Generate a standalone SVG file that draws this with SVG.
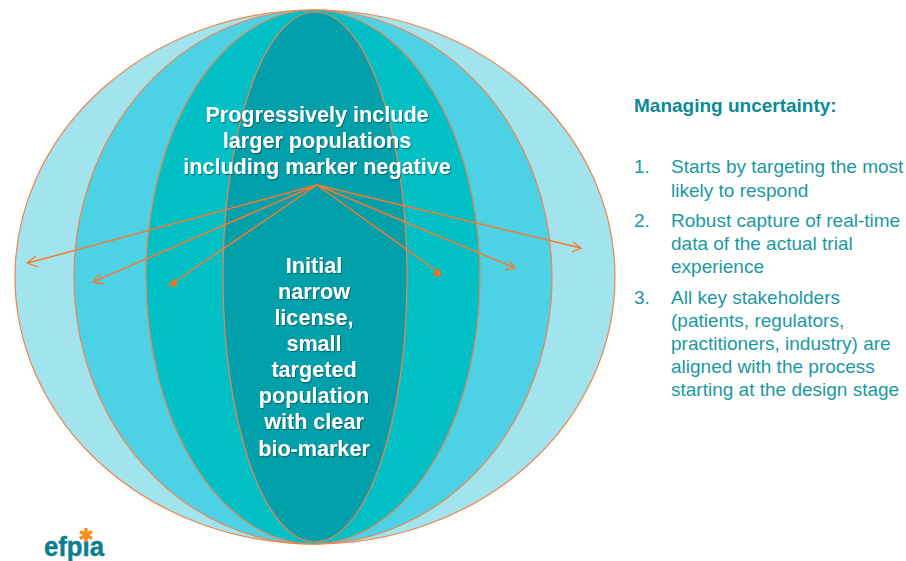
<svg xmlns="http://www.w3.org/2000/svg" width="906" height="561" viewBox="0 0 906 561">
<defs>
<style>
text{font-family:"Liberation Sans",Arial,sans-serif}
.e{stroke:#ef8450;stroke-width:1.2}
.c{fill:#fff;font-weight:700;font-size:21.6px;text-anchor:middle;filter:url(#s)}
.h{fill:#0b8a94;font-weight:700;font-size:19px}
.b{fill:#1c98a2;font-size:19px}
.l{stroke:#f57a30;stroke-width:1.5;fill:none}
.o{stroke:#f57a30;stroke-width:1.3;fill:none}
.t{fill:#f97316}
.a{stroke:#f7901e;stroke-width:3.4}
</style>
<filter id="s" x="-10%" y="-20%" width="120%" height="140%"><feDropShadow dx="1" dy="1.2" stdDeviation="0.6" flood-color="#0a4a50" flood-opacity="0.65"/></filter>
</defs>
<rect width="906" height="561" fill="#fff"/>
<g id="ellipse-outer"><ellipse class="e" cx="315" cy="277" rx="300" ry="267" fill="#a2e4ee"/></g>
<g id="ellipse-2"><ellipse class="e" cx="313" cy="277" rx="239" ry="267" fill="#4dd1e4"/></g>
<g id="ellipse-3"><ellipse class="e" cx="313" cy="277" rx="167" ry="267" fill="#00c0c6"/></g>
<g id="ellipse-inner"><ellipse class="e" cx="315" cy="277" rx="92" ry="265" fill="#00a0aa"/></g>
<g id="connectors">
<path class="l" d="M317 185L28 263"/>
<path class="o" d="M36 256L27 263L38 267"/>
<path class="l" d="M317 185L93 282"/>
<path class="o" d="M100 274L93 282L104 284"/>
<path class="l" d="M317 185L173 283"/>
<path class="t" d="M168 286.500L174.500 278L177.500 286Z"/>
<path class="l" d="M317 185L438 272"/>
<path class="t" d="M442 276.500L432.500 275L438 267.500Z"/>
<path class="l" d="M317 185L515 268"/>
<path class="o" d="M509 261L515 268L505 270"/>
<path class="l" d="M317 185L581 248"/>
<path class="o" d="M573 242L581 248L572 252"/>
</g>
<g id="label-outer">
<text class="c" x="317" y="122">Progressively include</text>
<text class="c" x="317" y="148">larger populations</text>
<text class="c" x="317" y="174">including marker negative</text>
</g>
<g id="label-inner">
<text class="c" x="314" y="273">Initial</text>
<text class="c" x="314" y="299">narrow</text>
<text class="c" x="314" y="325">license,</text>
<text class="c" x="314" y="351">small</text>
<text class="c" x="314" y="377">targeted</text>
<text class="c" x="314" y="403">population</text>
<text class="c" x="314" y="429">with clear</text>
<text class="c" x="314" y="456">bio-marker</text>
</g>
<g id="panel">
<text class="h" x="634" y="112">Managing uncertainty:</text>
<text class="b" x="634" y="173">1.</text>
<text class="b" x="671" y="173">Starts by targeting the most</text>
<text class="b" x="671" y="197">likely to respond</text>
<text class="b" x="634" y="227">2.</text>
<text class="b" x="671" y="227">Robust capture of real-time</text>
<text class="b" x="671" y="250">data of the actual trial</text>
<text class="b" x="671" y="273">experience</text>
<text class="b" x="634" y="304">3.</text>
<text class="b" x="671" y="304">All key stakeholders</text>
<text class="b" x="671" y="327">(patients, regulators,</text>
<text class="b" x="671" y="350">practitioners, industry) are</text>
<text class="b" x="671" y="373">aligned with the process</text>
<text class="b" x="671" y="396">starting at the design stage</text>
</g>
<g id="logo">
<text x="44" y="555.500" font-size="27" font-weight="700" fill="#0d7f8c" stroke="#0d7f8c" stroke-width="0.5" textLength="60" lengthAdjust="spacingAndGlyphs">efpia</text>
<path class="a" d="M86 528V542M80 531.500L92 538.500M92 531.500L80 538.500"/>
</g>
</svg>
